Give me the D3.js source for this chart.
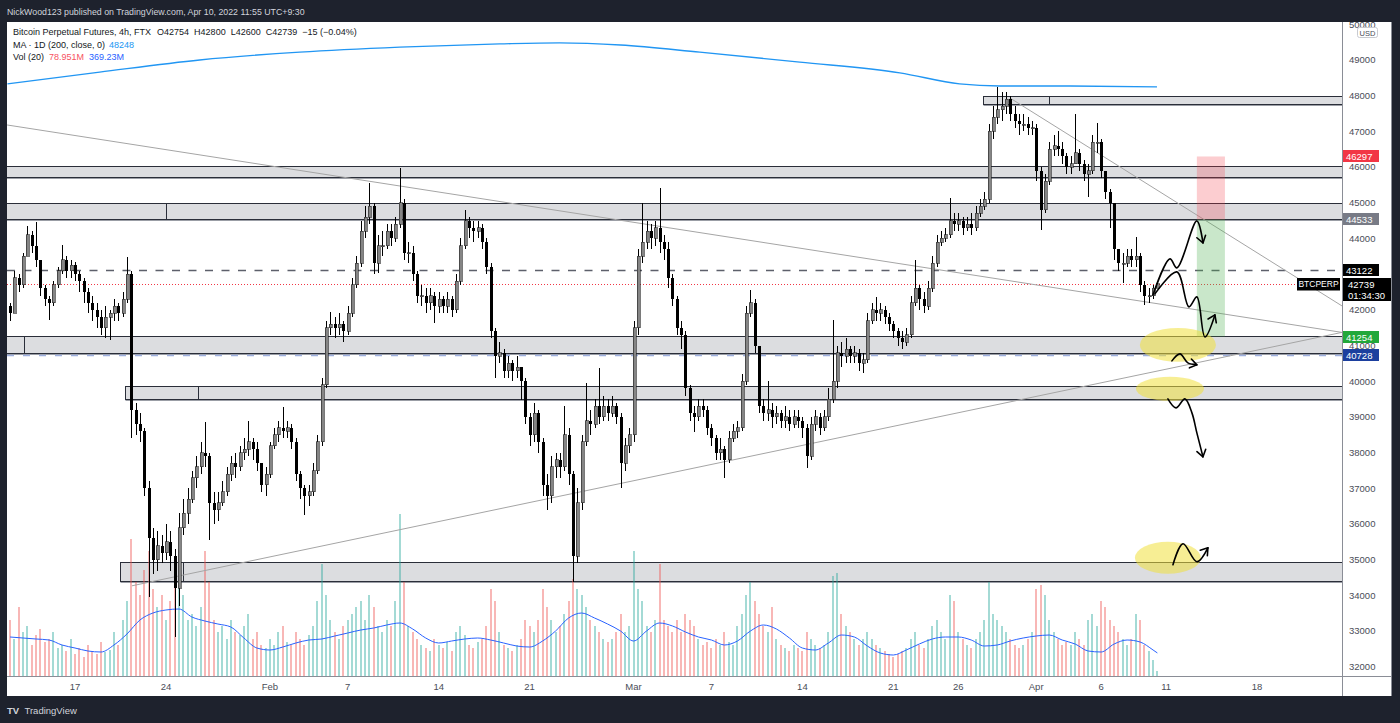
<!DOCTYPE html>
<html><head><meta charset="utf-8">
<script src="https://cdn.jsdelivr.net/npm/d3@7"></script>
<style>
html,body{margin:0;padding:0;background:#1e222d;overflow:hidden;}
svg{display:block;font-family:"Liberation Sans","DejaVu Sans",Arial,sans-serif;}
</style></head><body>
<svg id="c" width="1400" height="723"></svg>
<script>
// ---------------- DATA ----------------
// 8h candles starting 2022-01-12 00:00, day offsets relative to 2022-01-17
const firstOpen = 42100;
const closes = [41900,42900,42700,43500,44100,43800,43400,42600,42300,42200,
42700,43100,43400,43100,43250,43000,42800,42500,42200,42000,
41800,41500,41800,41900,42100,41900,42300,43000,39200,38800,
38600,37000,35600,35000,35400,35200,35500,35100,34200,35900,
36300,36700,37300,37600,38000,37900,36600,36400,36600,36900,
37400,37700,37600,38000,38100,38300,38100,37700,37100,37400,
38200,38500,38700,38600,38700,38300,37400,37000,36800,36900,
37500,38300,39900,41500,41600,41500,41600,41400,41900,42700,
43300,44200,44600,44900,43300,43800,43800,44200,44000,44400,
45000,43600,43600,43000,42400,42400,42200,42400,42100,42300,
42100,42300,42000,42800,43800,44500,44300,44200,44300,43900,
43200,41400,40700,40800,40300,40500,40300,40400,40000,39000,
38500,39100,38300,37100,36800,37600,37800,37600,38500,37400,
35100,36600,38300,38900,38800,39300,39000,39300,39100,39300,
39000,37700,38200,38500,41500,43500,43900,44200,44000,44300,
43900,43700,42900,42300,41500,41300,39800,39100,39000,39300,
39200,38700,38400,38000,38100,37800,38400,38600,38700,40000,
41900,42200,41000,39300,39100,39200,39000,39100,38900,39000,
38800,39000,38900,38700,37900,38800,39000,38700,39000,39500,
40000,40800,40700,40900,40700,40800,40500,40600,41700,42000,
41900,42000,41800,41600,41400,41200,41100,41300,42200,42600,
42300,42100,42600,43300,43900,44000,44100,44500,44400,44500,
44300,44400,44300,44700,44900,45100,47000,47400,47600,47700,
47900,47500,47300,47200,47200,47100,47100,45900,44800,45600,
46500,46600,46500,46300,46000,46100,46400,46100,45800,45900,
46700,46700,45900,45300,45000,43700,43300,43300,43500,43400,
43500,42700,42400,42400,42600,42739];
const highs = [42200,43100,43000,43600,44350,44200,44450,43400,42700,42400,
42800,43200,43820,43500,43400,43350,43100,42900,42600,42400,
42200,42000,42100,42000,42300,42200,42500,43480,43100,39400,
39100,38700,37200,35900,35800,35700,36000,35800,35300,36300,
36700,37000,37500,37900,38300,38860,38000,36900,36900,37200,
37600,37900,38000,38200,38400,38880,38400,38300,37700,37600,
38300,38700,38900,39280,38900,38800,38400,37500,37100,37100,
37700,38500,40100,41700,41940,41800,41900,41700,42100,42900,
43500,44500,44900,45560,45000,44100,44200,44400,44400,44600,
45970,45100,43900,43800,43100,42700,42600,42600,42500,42500,
42400,42500,42400,43000,44000,44800,44600,44500,44500,44400,
44000,43300,41500,41100,40900,40700,40600,40700,40400,40100,
39100,39400,39200,38400,37400,37900,38000,38000,39300,38700,
37500,37000,38500,39960,39200,39500,40380,39600,39500,39600,
39400,39100,38400,38700,41700,43700,45000,44500,44400,44500,
45420,44100,43900,43000,42400,41700,41400,39900,39300,39500,
39500,39300,38800,38500,38400,38200,38600,38800,38900,40200,
42100,42560,42300,41000,39500,40000,39400,39300,39200,39300,
39200,39200,39200,39000,38800,39000,39200,39100,39200,39800,
41720,41000,41100,41200,41000,41000,40900,40800,41900,42200,
42360,42200,42100,41900,41700,41500,41400,41500,42400,43400,
42700,42500,42800,43500,44100,44200,44300,45140,44700,44700,
44600,44600,44700,44900,45100,45300,47200,47700,48240,48100,
48100,48000,47700,47500,47500,47400,47300,47200,46000,45800,
46700,46900,47000,46700,46400,46300,47500,46500,46200,46100,
46900,47240,46800,45900,45400,45000,43700,43600,43700,43700,
44040,43600,42800,42600,42700,42800];
const lows = [41700,41900,42500,42600,43500,43600,43200,42400,42100,41720,
42100,42600,43000,42900,42900,42800,42500,42200,41900,41700,
41500,41300,41200,41160,41700,41700,41800,42200,38400,38500,
38300,36800,33960,34600,34700,34900,35000,34700,32840,33700,
35700,36000,36600,37000,37400,37600,35560,36000,36100,36500,
36800,37200,37300,37500,37800,37900,37800,37500,36900,36800,
37300,38100,38300,38400,38400,38100,37200,36700,36260,36500,
36800,37400,38200,39800,41300,41200,41300,41100,41300,41800,
42600,43200,44000,44400,43000,43040,43500,43700,43800,43900,
44300,43400,43300,42800,42200,42100,41900,42000,41640,41900,
41900,41900,41800,41900,42700,43700,44000,43900,44000,43700,
43000,41200,40100,40500,40100,40100,40000,40100,39480,38800,
38200,38300,38000,36800,36400,36600,37300,37300,37500,37100,
34380,34900,36400,38200,38500,38700,38800,38900,38900,39000,
38800,37000,37500,38000,38300,41300,43300,43700,43700,43800,
43600,43400,42600,42100,41300,40900,39600,38900,38580,38900,
39000,38500,38200,37800,37800,37300,37700,38300,38400,38600,
39900,41800,40800,39100,38900,38900,38700,38800,38700,38700,
38600,38700,38700,38400,37580,37800,38600,38500,38600,38900,
39400,39800,40400,40500,40500,40500,40300,40240,40500,41600,
41700,41700,41600,41400,41200,41000,40900,41000,41200,42100,
42000,41900,42000,42500,43200,43800,43900,44000,44200,44200,
44100,44200,44100,44200,44600,44800,45000,46800,47200,47300,
47500,47300,47100,46900,47000,46900,46900,45600,44240,44700,
45500,46300,46300,46100,45800,45800,46100,45900,45600,45160,
45800,46400,45700,45100,44300,43400,43100,42760,43200,43200,
43200,42500,42140,42200,42300,42600];
// volume (M)
const volumes = [900,600,1100,700,800,500,650,750,550,600,
700,450,500,400,600,350,450,300,500,400,
350,550,380,420,700,500,900,1200,2200,1500,
1300,1700,2000,1400,1100,1300,900,1200,1900,2100,
1300,900,1000,800,1100,2000,1500,900,700,800,
600,900,700,650,800,1000,600,700,500,450,
600,500,700,800,550,500,700,600,500,650,
800,1200,1800,1300,900,700,600,800,900,1000,
1100,1200,900,1300,1100,800,700,900,800,1200,
2600,1500,800,700,600,500,450,400,600,500,
450,550,400,700,800,650,500,450,550,600,
800,1400,1200,700,500,450,400,500,600,900,
800,700,900,1400,1100,900,700,800,1000,1200,
1550,1400,1300,1100,900,800,700,600,550,600,
700,1000,700,800,2000,1400,1200,800,700,900,
1800,900,800,700,900,700,1000,900,800,600,
500,550,450,600,500,700,550,500,800,1000,
1300,1500,1200,1000,800,700,1100,600,500,450,
400,500,450,400,700,600,500,450,500,700,
1600,1650,1000,800,700,600,500,600,700,600,
500,450,400,350,300,350,400,450,600,700,
500,450,600,800,900,700,600,1300,1200,700,
600,500,450,600,700,900,1500,1000,900,800,
700,600,500,450,500,600,700,1400,1450,1300,
900,700,600,500,550,500,700,600,500,900,
1000,800,1200,1100,900,800,700,600,500,600,
1000,900,500,400,250,80];
// Vol MA(20), one value per day from day -5 to 83, last at final bar
const volMA = [624,608,592,576,496,448,400,384,496,672,
896,1008,1056,1072,944,880,832,784,608,448,
416,464,528,576,592,640,688,736,768,816,
848,752,608,528,560,592,608,576,528,480,
464,560,720,928,1008,928,832,720,560,720,
848,800,704,624,576,496,560,720,816,752,
608,448,416,528,656,624,480,368,336,416,
512,592,624,624,576,480,496,560,608,640,
656,576,512,400,384,512,576,544,416,369];
// MA 1D(200)
const maDays = [-5.2,1.9,9.6,17.3,25.0,32.7,37.3,42.0,48.1,55.8,63.5,68.1,71.2,75.8,83.3];
const maVals = [48330,48660,49000,49220,49360,49450,49480,49420,49220,48940,48640,48330,48270,48270,48248];

// Drawings
const zoneTop = [48000,46040,45000,41280,39880,34930];
const zoneBottom = [47770,45730,44540,40800,39500,34420];
const zoneStartDay = [69.9,-8,-8,-8,3.85,3.5];
const zoneSplitDay = [75.0,null,7.0,-3.9,9.5,8.3];
const trendLines = [[[-5.23,47180],[97.54,41370]],[[4.39,34272],[97.54,41370]],[[71.98,47936],[97.54,42112]]];
const positionDays = [86.37,88.53];
const positionPrices = [46297,44533,41254];
const curves = [
 [[82.99,42420],[84.30,43428],[84.83,43176],[86.37,44492],[86.84,43876]],
 [[83.14,42448],[84.83,43064],[85.76,42084],[86.37,42364],[86.99,41244],[87.76,41860]],
 [[84.45,40572],[85.07,40768],[85.68,40516],[86.37,40460]],
 [[84.14,39508],[84.76,39256],[85.45,39508],[85.99,39116],[86.37,38556],[86.84,37884]],
 [[84.53,34860],[85.30,35448],[86.37,34944],[87.22,35336]]
];
const highlights = [[84.91,41020,2.93,476],[84.30,39788,2.62,336],[84.14,35056,2.54,448]];
const hLineVals = [43122,42739,40728];
const markerVals = [46297,44533,43122,42739,41254,40728];
const markerColors = ["#f23645","#787b86","#000000","#000000","#22a83a","#1c3f9e"];
const priceTicks = [32000,33000,34000,35000,36000,37000,38000,39000,40000,41000,42000,44000,45000,46000,47000,48000,49000,50000];
const timeTickDates = ["2022-01-17","2022-01-24","2022-02-01","2022-02-07","2022-02-14","2022-02-21","2022-03-01","2022-03-07","2022-03-14","2022-03-21","2022-03-26","2022-04-01","2022-04-06","2022-04-11","2022-04-18"];
const timeTickLabels = ["17","24","Feb","7","14","21","Mar","7","14","21","26","Apr","6","11","18"];

// ---------------- DRAW ----------------
const BASE = Date.UTC(2022,0,17), DAY = 864e5;
const dd = d => new Date(BASE + d*DAY);
const candleDay = i => -5 + i/3;
const opens = closes.map((c,i)=> i===0 ? firstOpen : closes[i-1]);

const PL=7, PR=1342, PT=22, PB=676, FR=1392, FB=696;
const x = d3.scaleUtc().domain([dd(0), dd(91)]).range([75,1257]);
const y = d3.scaleLinear().domain([31745,50064]).range([PB,PT]);
const yv = d3.scaleLinear().domain([0,2560]).range([PB,PB-160]);
const X = d => x(dd(d));

const svg = d3.select("#c");
svg.append("rect").attr("width",1400).attr("height",723).attr("fill","#1e222d");
svg.append("rect").attr("x",PL).attr("y",PT).attr("width",FR-PL).attr("height",FB-PT).attr("fill","#ffffff");
const defs = svg.append("defs");
defs.append("clipPath").attr("id","plot").append("rect")
  .attr("x",PL).attr("y",PT).attr("width",PR-PL).attr("height",PB-PT);
defs.append("clipPath").attr("id","axc").append("rect").attr("x",PR).attr("y",PT).attr("width",60).attr("height",PB-PT);
const plot = svg.append("g").attr("clip-path","url(#plot)");

// zones
zoneTop.forEach((t,k)=>{
  const x0 = Math.round(X(zoneStartDay[k]))+0.5, y0 = Math.round(y(t))+0.5, y1 = Math.round(y(zoneBottom[k]))+0.5;
  plot.append("rect").attr("x",x0).attr("y",y0).attr("width",PR+20-x0).attr("height",y1-y0)
    .attr("fill","#dcdde0").attr("stroke","#2a2e39").attr("stroke-width",1);
  plot.append("line").attr("x1",x0).attr("x2",PR).attr("y1",y1+1).attr("y2",y1+1).attr("stroke","#9b9ea6").attr("stroke-width",1);
  if (zoneSplitDay[k] !== null) {
    const xs = Math.round(X(zoneSplitDay[k]))+0.5;
    plot.append("line").attr("x1",xs).attr("x2",xs).attr("y1",y0).attr("y2",y1).attr("stroke","#2a2e39");
  }
});

// volume
plot.append("g").selectAll("rect").data(volumes).join("rect")
  .attr("x",(v,i)=>Math.round(X(candleDay(i)))-1).attr("width",2)
  .attr("y",v=>yv(v)).attr("height",v=>PB-yv(v))
  .attr("fill",(v,i)=> closes[i]>=opens[i] ? "#26a69a" : "#ef5350").attr("opacity",0.42)
  .attr("shape-rendering","crispEdges");
plot.append("path").datum(volMA)
  .attr("d", d3.line().x((v,k)=> X(k===volMA.length-1 ? 83.33 : k-5)).y(v=>yv(v)).curve(d3.curveMonotoneX))
  .attr("fill","none").attr("stroke","#2962ff").attr("stroke-width",1);

// horizontal lines
const hStyles = [["#5d606b",1.5,"8,8.5"],["#f23645",1,"1,2"],["#9fb1e0",1.5,"7,9"]];
hLineVals.forEach((v,k)=>{
  const yy = Math.round(y(v))+0.5;
  plot.append("line").attr("x1",PL).attr("x2",PR).attr("y1",yy).attr("y2",yy)
    .attr("stroke",hStyles[k][0]).attr("stroke-width",hStyles[k][1]).attr("stroke-dasharray",hStyles[k][2]);
});

// trend lines
trendLines.forEach(l=>{
  plot.append("line").attr("x1",X(l[0][0])).attr("y1",y(l[0][1])).attr("x2",X(l[1][0])).attr("y2",y(l[1][1]))
    .attr("stroke","#a5a5a5").attr("stroke-width",1);
});

// candles
const cg = plot.append("g").attr("shape-rendering","crispEdges");
closes.forEach((c,i)=>{
  const o = opens[i], cx = Math.round(X(candleDay(i)));
  cg.append("line").attr("x1",cx+0.5).attr("x2",cx+0.5).attr("y1",y(highs[i])).attr("y2",y(lows[i]))
    .attr("stroke","#000").attr("stroke-width",1);
  const yt = y(Math.max(o,c)), yb = y(Math.min(o,c));
  cg.append("rect").attr("x",cx-1).attr("y",yt).attr("width",3).attr("height",Math.max(1,yb-yt))
    .attr("fill", c>=o ? "#858585" : "#000").attr("stroke", c>=o ? "#222":"none").attr("stroke-width",0.6);
});

// MA 200 (1D)
plot.append("path").datum(maDays.map((d,k)=>[d,maVals[k]]))
  .attr("d", d3.line().x(p=>X(p[0])).y(p=>y(p[1])).curve(d3.curveMonotoneX))
  .attr("fill","none").attr("stroke","#2196f3").attr("stroke-width",1.4);

// position tool
const px0 = X(positionDays[0]), px1 = X(positionDays[1]);
plot.append("rect").attr("x",px0).attr("y",y(positionPrices[0])).attr("width",px1-px0)
  .attr("height",y(positionPrices[1])-y(positionPrices[0])).attr("fill","rgba(242,54,69,0.25)");
plot.append("rect").attr("x",px0).attr("y",y(positionPrices[1])).attr("width",px1-px0)
  .attr("height",y(positionPrices[2])-y(positionPrices[1])).attr("fill","rgba(76,175,80,0.3)");

// highlights
highlights.forEach(h=>{
  plot.append("ellipse").attr("cx",X(h[0])).attr("cy",y(h[1]))
    .attr("rx",X(h[0]+h[2])-X(h[0])).attr("ry",y(h[1]-h[3])-y(h[1]))
    .attr("fill","rgba(240,224,60,0.55)");
});
// curves with arrows
const lineGen = d3.line().x(p=>X(p[0])).y(p=>y(p[1])).curve(d3.curveCatmullRom.alpha(0.5));
curves.forEach(cv=>{
  plot.append("path").attr("d",lineGen(cv)).attr("fill","none").attr("stroke","#000").attr("stroke-width",1.6).attr("stroke-linecap","round");
  const a = cv[cv.length-2], b = cv[cv.length-1];
  const bx = X(b[0]), by = y(b[1]), ax = X(a[0]), ay = y(a[1]);
  const ang = Math.atan2(by-ay, bx-ax), L = 8, sp = 0.6;
  const p1 = [bx - L*Math.cos(ang-sp), by - L*Math.sin(ang-sp)];
  const p2 = [bx - L*Math.cos(ang+sp), by - L*Math.sin(ang+sp)];
  plot.append("path").attr("d",`M${p1[0]},${p1[1]}L${bx},${by}L${p2[0]},${p2[1]}`)
    .attr("fill","none").attr("stroke","#000").attr("stroke-width",1.6).attr("stroke-linecap","round").attr("stroke-linejoin","round");
});

// axes frame
svg.append("line").attr("x1",PR+0.5).attr("x2",PR+0.5).attr("y1",PT).attr("y2",FB).attr("stroke","#8a8d96");
svg.append("line").attr("x1",PL).attr("x2",FR).attr("y1",PB+0.5).attr("y2",PB+0.5).attr("stroke","#8a8d96");
svg.append("line").attr("x1",FR-0.5).attr("x2",FR-0.5).attr("y1",PT).attr("y2",FB).attr("stroke","#8a8d96");

// price axis labels
const axG = svg.append("g").attr("clip-path","url(#axc)");
axG.selectAll("text").data(priceTicks).join("text")
  .attr("x",1349).attr("y",v=>y(v)+3.3).attr("font-size",9.5).attr("fill","#4a4d57").text(v=>v);

// time axis labels
svg.append("g").selectAll("text").data(timeTickDates).join("text")
  .attr("x",s=>x(new Date(s+"T00:00:00Z"))).attr("y",689.5).attr("text-anchor","middle")
  .attr("font-size",9.5).attr("fill","#4a4d57").text((s,k)=>timeTickLabels[k]);

// USD box
svg.append("rect").attr("x",1357.5).attr("y",27.5).attr("width",20).attr("height",10).attr("rx",2)
  .attr("fill","#fff").attr("stroke","#c8cad0");
svg.append("text").attr("x",1367.5).attr("y",35.5).attr("text-anchor","middle").attr("font-size",7.5).attr("fill","#4a4d57").text("USD");

// right markers
markerVals.forEach((v,k)=>{
  const yy = Math.round(y(v));
  const h = k===3 ? 23 : 12;
  const w = k===3 ? 48 : 36;
  svg.append("rect").attr("x",PR+1).attr("y",yy-6).attr("width",w).attr("height",h).attr("fill",markerColors[k]);
  svg.append("text").attr("x",PR+1+ (k===3?5:3)).attr("y",yy+3.5).attr("font-size",9.5).attr("fill","#fff").text(v);
  if (k===3) {
    svg.append("text").attr("x",PR+6).attr("y",yy+15).attr("font-size",9.5).attr("fill","#fff").text("01:34:30");
    svg.append("rect").attr("x",1297).attr("y",yy-6).attr("width",43).attr("height",12.5).attr("fill","#000");
    svg.append("text").attr("x",1318.5).attr("y",yy+3.3).attr("text-anchor","middle").attr("font-size",8.5).attr("fill","#fff").text("BTCPERP");
  }
});

// header
svg.append("text").attr("x",7).attr("y",14.5).attr("font-size",8.8).attr("fill","#d1d4dc")
  .text("NickWood123 published on TradingView.com, Apr 10, 2022 11:55 UTC+9:30");
const legRows = [
 [35, [["Bitcoin Perpetual Futures, 4h, FTX","#131722",6],["O42754","#131722",5],["H42800","#131722",5],["L42600","#131722",5],["C42739","#131722",5],["\u221215 (\u22120.04%)","#131722",0]]],
 [47.5, [["MA \u00b7 1D (200, close, 0)","#131722",4],["48248","#2196f3",0]]],
 [60, [["Vol (20)","#131722",5],["78.951M","#f7525f",5],["369.23M","#2962ff",0]]]
];
legRows.forEach(r=>{
  let cx = 13;
  r[1].forEach(it=>{
    const t = svg.append("text").attr("x",cx).attr("y",r[0]).attr("font-size",9).attr("fill",it[1]).text(it[0]);
    cx += t.node().getComputedTextLength() + it[2];
  });
});
// footer
svg.append("text").attr("x",7).attr("y",714).attr("font-size",9.5).attr("font-weight","bold").attr("fill","#d1d4dc").text("TV");
svg.append("text").attr("x",24.5).attr("y",714).attr("font-size",9.5).attr("fill","#d1d4dc").text("TradingView");
</script></body></html>
